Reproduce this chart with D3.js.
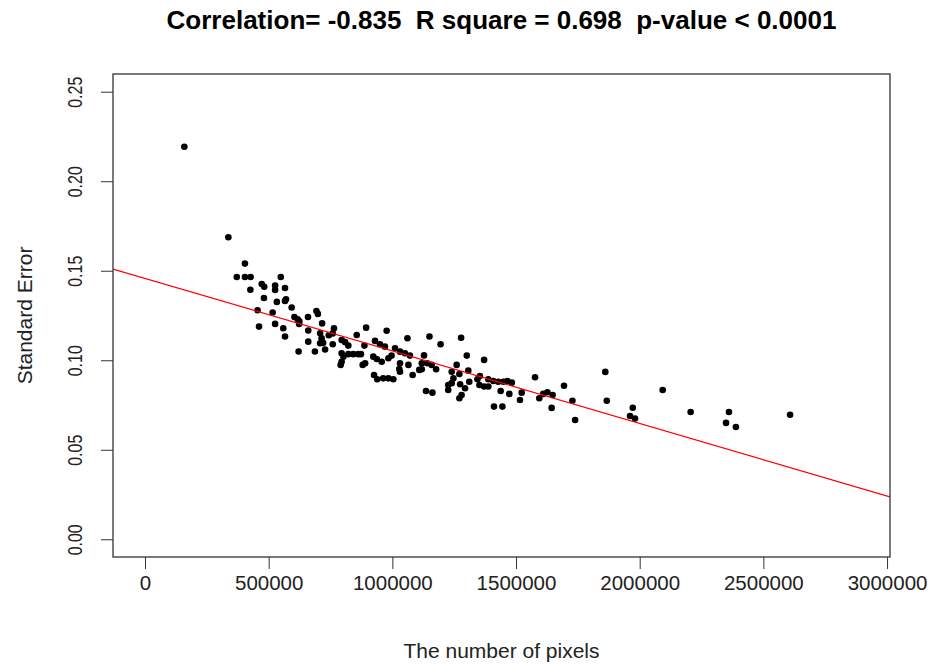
<!DOCTYPE html>
<html>
<head>
<meta charset="UTF-8">
<script src="https://cdn.jsdelivr.net/npm/d3@7"></script>
<style>
  body { margin: 0; background: #fff; }
  svg text { font-family: "Liberation Sans", Arial, sans-serif; }
</style>
</head>
<body>
<svg id="chart"></svg>
<script>
// values
var pixels = [159000, 337000, 404000, 371000, 404000, 427000, 549000, 472000, 482000, 426000,
  526000, 526000, 566000, 481000, 533000, 570000, 566000, 593000, 455000, 516000,
  604000, 617000, 624000, 659000, 693000, 699000, 461000, 526000, 559000, 566000,
  623000, 660000, 716000, 660000, 708000, 714000, 708000, 720000, 621000, 687000,
  728000, 743000, 764000, 759000, 759000, 795000, 809000, 822000, 795000, 802000,
  795000, 791000, 822000, 842000, 862000, 873000, 856000, 894000, 880000, 890000,
  887000, 930000, 950000, 970000, 977000, 923000, 937000, 957000, 984000, 997000,
  1011000, 1031000, 1051000, 1071000, 1061000, 1031000, 1028000, 1065000, 926000, 939000,
  963000, 984000, 1004000, 1031000, 1082000, 1109000, 1128000, 1119000, 1150000, 1136000,
  1195000, 1278000, 1119000, 1141000, 1159000, 1177000, 1162000, 1240000, 1247000, 1240000,
  1226000, 1226000, 1260000, 1271000, 1301000, 1307000, 1311000, 1274000, 1294000, 1280000,
  1271000, 1344000, 1354000, 1352000, 1371000, 1388000, 1371000, 1388000, 1408000, 1428000,
  1449000, 1465000, 1483000, 1438000, 1473000, 1523000, 1516000, 1411000, 1445000, 1577000,
  1594000, 1610000, 1627000, 1648000, 1644000, 1694000, 1728000, 1739000, 1861000, 1867000,
  1972000, 1961000, 1981000, 2093000, 2206000, 2361000, 2349000, 2389000, 2608000];

var stdError = [0.2193, 0.1687, 0.1540, 0.1465, 0.1465, 0.1465, 0.1465, 0.1426, 0.1411, 0.1394,
  0.1417, 0.1393, 0.1404, 0.1348, 0.1326, 0.1341, 0.1331, 0.1295, 0.1279, 0.1267,
  0.1242, 0.1229, 0.1217, 0.1242, 0.1275, 0.1259, 0.1188, 0.1203, 0.1179, 0.1133,
  0.1203, 0.1166, 0.1206, 0.1104, 0.1151, 0.1123, 0.1095, 0.1097, 0.1049, 0.1049,
  0.1060, 0.1140, 0.1179, 0.1150, 0.1089, 0.1113, 0.1101, 0.1082, 0.1039, 0.1020,
  0.0992, 0.0974, 0.1034, 0.1034, 0.1034, 0.1034, 0.1141, 0.1182, 0.0974, 0.0983,
  0.1082, 0.1108, 0.1089, 0.1076, 0.1165, 0.1020, 0.1007, 0.0992, 0.1011, 0.1026,
  0.1067, 0.1048, 0.1039, 0.1026, 0.1123, 0.0983, 0.0951, 0.0974, 0.0918, 0.0894,
  0.0899, 0.0899, 0.0894, 0.0936, 0.0918, 0.0946, 0.1027, 0.0983, 0.1133, 0.0828,
  0.1089, 0.1126, 0.0950, 0.0983, 0.0974, 0.0950, 0.0819, 0.0936, 0.0899, 0.0872,
  0.0862, 0.0834, 0.0974, 0.0923, 0.1026, 0.0942, 0.0880, 0.0866, 0.0844, 0.0806,
  0.0788, 0.0894, 0.0912, 0.0862, 0.0853, 0.0853, 0.1002, 0.0894, 0.0884, 0.0880,
  0.0880, 0.0884, 0.0875, 0.0828, 0.0812, 0.0819, 0.0778, 0.0741, 0.0741, 0.0905,
  0.0788, 0.0812, 0.0821, 0.0806, 0.0734, 0.0858, 0.0774, 0.0666, 0.0935, 0.0774,
  0.0735, 0.0689, 0.0674, 0.0834, 0.0711, 0.0711, 0.0650, 0.0627, 0.0696];

var xTicks = [0, 500000, 1000000, 1500000, 2000000, 2500000, 3000000];
var yTicks = [0.00, 0.05, 0.10, 0.15, 0.20, 0.25];

// fitted line
var intercept = 0.1457,
    slope = -4.05e-8;

var title = "Correlation= -0.835  R square = 0.698  p-value < 0.0001";

var width = 929,
    height = 665;
var plotL = 113, plotR = 890, plotT = 74, plotB = 557;

var svg = d3.select("#chart")
    .attr("width", width)
    .attr("height", height);

var x = d3.scaleLinear()
    .domain([-129400, 3012000])
    .range([plotL, plotR]);

var y = d3.scaleLinear()
    .domain([-0.0099, 0.2599])
    .range([plotB, plotT]);

svg.append("defs").append("clipPath")
    .attr("id", "plotClip")
  .append("rect")
    .attr("x", plotL).attr("y", plotT)
    .attr("width", plotR - plotL).attr("height", plotB - plotT);

// x axis
var xAxis = svg.append("g")
    .attr("transform", `translate(0,${plotB})`)
    .call(d3.axisBottom(x).tickValues(xTicks).tickSize(12).tickPadding(6)
          .tickFormat(d3.format("d")));
xAxis.select(".domain").remove();
xAxis.selectAll("line").attr("stroke", "#333");
xAxis.selectAll("text")
    .attr("font-size", 20.5)
    .attr("fill", "#222");

// y axis
var yAxis = svg.append("g")
    .attr("transform", `translate(${plotL},0)`)
    .call(d3.axisLeft(y).tickValues(yTicks).tickSize(12)
          .tickFormat(d3.format(".2f")));
yAxis.select(".domain").remove();
yAxis.selectAll("line").attr("stroke", "#333");
yAxis.selectAll("text")
    .attr("font-size", 21)
    .attr("fill", "#222")
    .attr("x", 0)
    .attr("text-anchor", "middle")
    .attr("transform", "translate(-38,0) rotate(-90) scale(0.76,1)")
    .attr("dy", "0.35em");

// points
svg.append("g")
    .selectAll("circle")
    .data(pixels)
    .enter()
    .append("circle")
    .attr("cx", d => x(d))
    .attr("cy", (d, i) => y(stdError[i]))
    .attr("r", 3.3)
    .attr("fill", "#000");

// regression line
var xd = x.domain();
svg.append("line")
    .attr("clip-path", "url(#plotClip)")
    .attr("x1", x(xd[0])).attr("y1", y(intercept + slope * xd[0]))
    .attr("x2", x(xd[1])).attr("y2", y(intercept + slope * xd[1]))
    .attr("stroke", "#ff0000")
    .attr("stroke-width", 1.2);

// frame
svg.append("rect")
    .attr("x", plotL).attr("y", plotT)
    .attr("width", plotR - plotL).attr("height", plotB - plotT)
    .attr("fill", "none")
    .attr("stroke", "#333")
    .attr("stroke-width", 1.3);

// titles
svg.append("text")
    .attr("x", (plotL + plotR) / 2)
    .attr("y", 29)
    .attr("text-anchor", "middle")
    .attr("font-size", 26)
    .attr("font-weight", "bold")
    .style("white-space", "pre")
    .text(title);

svg.append("text")
    .attr("x", (plotL + plotR) / 2)
    .attr("y", 658)
    .attr("text-anchor", "middle")
    .attr("font-size", 21)
    .attr("fill", "#222")
    .text("The number of pixels");

svg.append("text")
    .attr("transform", `translate(32,${(plotT + plotB) / 2}) rotate(-90)`)
    .attr("text-anchor", "middle")
    .attr("font-size", 21)
    .attr("fill", "#222")
    .text("Standard Error");
</script>
</body>
</html>
